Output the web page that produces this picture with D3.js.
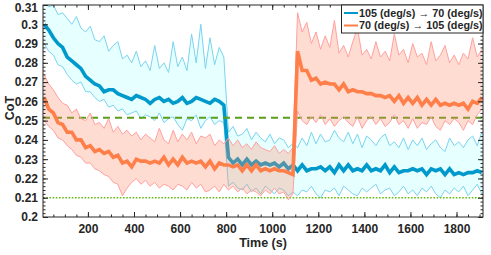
<!DOCTYPE html>
<html>
  <head>
    <meta charset="utf-8" />
    <style>
      body {
        margin: 0;
        background: white;
      }
      svg {
        display: block;
        font-family: 'Liberation Sans', Arial, sans-serif;
      }
      .axis text {
        font-size: 12px;
        font-weight: bold;
        fill: #262626;
      }
      .axis-label {
        font-size: 12.5px;
        font-weight: bold;
        fill: #262626;
        text-anchor: middle;
      }
      .legend text {
        font-size: 10.8px;
        font-weight: bold;
        fill: #262626;
      }
    </style>
  </head>
  <body>
    <script src="https://d3js.org/d3.v7.min.js"></script>
    <script>
      // sample grid (s)
      const sampleTimes = d3.range(10, 1911, 20);

      // 105 -> 70 deg/s
      const blueMean = [
        0.300, 0.297, 0.293, 0.290, 0.288, 0.283, 0.281, 0.279, 0.277, 0.273,
        0.271, 0.269, 0.268, 0.265, 0.266, 0.266, 0.264, 0.263, 0.262, 0.261,
        0.263, 0.262, 0.261, 0.259, 0.261, 0.262, 0.260, 0.261, 0.259, 0.260,
        0.262, 0.259, 0.260, 0.262, 0.261, 0.260, 0.259, 0.261, 0.260, 0.258,
        0.231, 0.228, 0.230, 0.227, 0.230, 0.227, 0.229, 0.227, 0.228, 0.227,
        0.228, 0.226, 0.228, 0.225, 0.227, 0.224, 0.227, 0.224, 0.225, 0.225,
        0.226, 0.224, 0.226, 0.223, 0.227, 0.224, 0.227, 0.224, 0.225, 0.224,
        0.227, 0.224, 0.225, 0.224, 0.227, 0.223, 0.226, 0.223, 0.224, 0.224,
        0.225, 0.224, 0.225, 0.222, 0.225, 0.224, 0.225, 0.222, 0.225, 0.222,
        0.223, 0.222, 0.223, 0.223, 0.224, 0.223,
      ];
      const blueHi = [
        0.312, 0.309, 0.310, 0.305, 0.306, 0.303, 0.300, 0.304, 0.298, 0.296,
        0.299, 0.292, 0.291, 0.294, 0.286, 0.289, 0.291, 0.282, 0.284, 0.280,
        0.286, 0.278, 0.281, 0.276, 0.289, 0.277, 0.280, 0.275, 0.291, 0.278,
        0.283, 0.276, 0.295, 0.280, 0.300, 0.277, 0.293, 0.279, 0.288, 0.283,
        0.244, 0.247, 0.242, 0.243, 0.246, 0.240, 0.244, 0.241, 0.239, 0.243,
        0.238, 0.241, 0.240, 0.236, 0.238, 0.236, 0.241, 0.237, 0.244, 0.238,
        0.243, 0.239, 0.240, 0.245, 0.241, 0.239, 0.244, 0.238, 0.243, 0.236,
        0.242, 0.240, 0.237, 0.241, 0.243, 0.237, 0.239, 0.236, 0.241, 0.235,
        0.240, 0.237, 0.241, 0.235, 0.238, 0.240, 0.236, 0.234, 0.241, 0.237,
        0.239, 0.236, 0.240, 0.242, 0.237, 0.244,
      ];
      const blueLo = [
        0.290, 0.286, 0.284, 0.279, 0.278, 0.274, 0.271, 0.269, 0.270, 0.265,
        0.265, 0.262, 0.260, 0.261, 0.257, 0.258, 0.255, 0.256, 0.253, 0.254,
        0.255, 0.251, 0.253, 0.252, 0.250, 0.254, 0.249, 0.251, 0.252, 0.248,
        0.245, 0.251, 0.250, 0.253, 0.246, 0.250, 0.252, 0.248, 0.250, 0.249,
        0.216, 0.218, 0.215, 0.214, 0.217, 0.213, 0.215, 0.212, 0.216, 0.214,
        0.212, 0.215, 0.214, 0.211, 0.213, 0.211, 0.214, 0.213, 0.216, 0.212,
        0.210, 0.214, 0.213, 0.215, 0.211, 0.216, 0.214, 0.212, 0.211, 0.215,
        0.213, 0.215, 0.217, 0.212, 0.214, 0.215, 0.211, 0.213, 0.216, 0.212,
        0.214, 0.211, 0.215, 0.213, 0.216, 0.212, 0.210, 0.214, 0.212, 0.215,
        0.213, 0.216, 0.211, 0.214, 0.217, 0.212,
      ];

      // 70 -> 105 deg/s
      const orMean = [
        0.262, 0.256, 0.254, 0.249, 0.248, 0.244, 0.244, 0.240, 0.240, 0.236,
        0.237, 0.234, 0.235, 0.233, 0.234, 0.231, 0.232, 0.228, 0.229, 0.226,
        0.230, 0.229, 0.229, 0.228, 0.229, 0.228, 0.231, 0.227, 0.230, 0.227,
        0.231, 0.228, 0.229, 0.228, 0.229, 0.226, 0.229, 0.225, 0.228, 0.227,
        0.227, 0.226, 0.227, 0.224, 0.227, 0.224, 0.227, 0.224, 0.225, 0.224,
        0.225, 0.224, 0.224, 0.223, 0.222, 0.286, 0.276, 0.276, 0.271, 0.272,
        0.269, 0.270, 0.269, 0.269, 0.266, 0.269, 0.265, 0.266, 0.265, 0.265,
        0.264, 0.264, 0.263, 0.263, 0.262, 0.263, 0.260, 0.263, 0.259, 0.262,
        0.259, 0.262, 0.258, 0.261, 0.258, 0.261, 0.258, 0.259, 0.258, 0.259,
        0.258, 0.259, 0.256, 0.260, 0.259, 0.262,
      ];
      const orHi = [
        0.274, 0.269, 0.266, 0.262, 0.259, 0.258, 0.254, 0.256, 0.251, 0.250,
        0.254, 0.248, 0.249, 0.246, 0.251, 0.244, 0.247, 0.243, 0.245, 0.242,
        0.244, 0.240, 0.243, 0.241, 0.239, 0.246, 0.240, 0.238, 0.245, 0.239,
        0.243, 0.240, 0.244, 0.238, 0.242, 0.241, 0.243, 0.237, 0.240, 0.238,
        0.241, 0.237, 0.240, 0.236, 0.238, 0.235, 0.239, 0.236, 0.235, 0.234,
        0.237, 0.233, 0.235, 0.233, 0.236, 0.306, 0.296, 0.301, 0.290, 0.296,
        0.287, 0.294, 0.288, 0.302, 0.285, 0.289, 0.283, 0.291, 0.298, 0.284,
        0.287, 0.282, 0.291, 0.283, 0.286, 0.281, 0.295, 0.284, 0.287, 0.280,
        0.290, 0.283, 0.285, 0.279, 0.291, 0.281, 0.284, 0.289, 0.280, 0.284,
        0.279, 0.285, 0.282, 0.293, 0.283, 0.287,
      ];
      const orLo = [
        0.250, 0.247, 0.245, 0.241, 0.240, 0.237, 0.235, 0.232, 0.231, 0.228,
        0.228, 0.225, 0.224, 0.222, 0.221, 0.218, 0.217, 0.211, 0.215, 0.218,
        0.220, 0.217, 0.219, 0.216, 0.218, 0.215, 0.217, 0.216, 0.214, 0.217,
        0.216, 0.214, 0.218, 0.215, 0.217, 0.213, 0.214, 0.216, 0.213, 0.217,
        0.214, 0.216, 0.213, 0.215, 0.212, 0.214, 0.213, 0.211, 0.214, 0.212,
        0.215, 0.212, 0.213, 0.209, 0.212, 0.255, 0.250, 0.248, 0.252, 0.249,
        0.253, 0.248, 0.251, 0.247, 0.250, 0.252, 0.249, 0.247, 0.252, 0.246,
        0.250, 0.252, 0.248, 0.251, 0.247, 0.249, 0.253, 0.248, 0.250, 0.246,
        0.251, 0.246, 0.249, 0.248, 0.252, 0.247, 0.245, 0.250, 0.248, 0.251,
        0.249, 0.245, 0.250, 0.248, 0.253, 0.256,
      ];

      const dashedRef = 0.2515;
      const dottedRef = 0.21;

      const xTicks = [200, 400, 600, 800, 1000, 1200, 1400, 1600, 1800];
      const yTicks = [0.2, 0.21, 0.22, 0.23, 0.24, 0.25, 0.26, 0.27, 0.28, 0.29, 0.3, 0.31];
      const legendNames = [
        ['105 (deg/s)', '70 (deg/s)'],
        ['70 (deg/s)', '105 (deg/s)'],
      ];

      const W = 491;
      const H = 255;
      const margin = { top: 5, right: 8, bottom: 38, left: 43 };

      const svg = d3.select('body').append('svg').attr('width', W).attr('height', H);

      const x = d3.scaleLinear().domain([5, 1915]).range([margin.left, W - margin.right]);
      const y = d3.scaleLinear().domain([0.2, 0.31]).range([H - margin.bottom, margin.top]);

      svg
        .append('clipPath')
        .attr('id', 'plot-clip')
        .append('rect')
        .attr('x', margin.left)
        .attr('y', margin.top)
        .attr('width', W - margin.left - margin.right)
        .attr('height', H - margin.top - margin.bottom);

      const series = [
        {
          mean: blueMean, hi: blueHi, lo: blueLo,
          line: '#0099cc', edge: '#7ad4ef', fill: '#e6ffff', fillOpacity: 1,
        },
        {
          mean: orMean, hi: orHi, lo: orLo,
          line: '#ff7f4a', edge: '#ffa0a0', fill: '#ff8a66', fillOpacity: 0.3,
        },
      ];

      const plot = svg.append('g').attr('clip-path', 'url(#plot-clip)');

      const area = d3
        .area()
        .x((d) => x(d.t))
        .y0((d) => y(d.lo))
        .y1((d) => y(d.hi));
      const line = d3
        .line()
        .x((d) => x(d.t))
        .y((d) => y(d.v));

      function drawSeries(s) {
        const rows = sampleTimes.map((t, i) => ({ t, lo: s.lo[i], hi: s.hi[i] }));
        const g = plot.append('g');
        g.append('path')
          .attr('d', area(rows))
          .attr('fill', s.fill)
          .attr('fill-opacity', s.fillOpacity);
        [s.hi, s.lo].forEach((vals) => {
          g.append('path')
            .attr('d', line(sampleTimes.map((t, i) => ({ t, v: vals[i] }))))
            .attr('fill', 'none')
            .attr('stroke', s.edge)
            .attr('stroke-width', 1);
        });
        g.append('path')
          .attr('d', line(sampleTimes.map((t, i) => ({ t, v: s.mean[i] }))))
          .attr('fill', 'none')
          .attr('stroke', s.line)
          .attr('stroke-width', 3.6);
      }

      drawSeries(series[0]);

      // reference levels
      plot
        .append('line')
        .attr('x1', x.range()[0])
        .attr('x2', x.range()[1])
        .attr('y1', y(dashedRef))
        .attr('y2', y(dashedRef))
        .attr('stroke', '#5a9e1a')
        .attr('stroke-width', 2)
        .attr('stroke-dasharray', '7,5');
      plot
        .append('line')
        .attr('x1', x.range()[0])
        .attr('x2', x.range()[1])
        .attr('y1', y(dottedRef))
        .attr('y2', y(dottedRef))
        .attr('stroke', '#66bb11')
        .attr('stroke-width', 1.6)
        .attr('stroke-dasharray', '1.6,1.6');

      drawSeries(series[1]);

      // axes, ticks pointing inward on all four sides
      const xMinor = d3.range(50, 1901, 50);
      const yMinor = d3.range(0, 56).map((i) => +(0.2 + i * 0.002).toFixed(3));
      const yFmt = (d) => String(+d.toFixed(2));
      const bottom = H - margin.bottom;
      const right = W - margin.right;

      const axes = svg.append('g').attr('class', 'axis').attr('color', '#262626');

      axes
        .append('g')
        .attr('transform', `translate(0,${bottom})`)
        .call(d3.axisBottom(x).tickValues(xMinor).tickSize(-2.5).tickFormat(''));
      axes
        .append('g')
        .attr('transform', `translate(0,${bottom})`)
        .call(d3.axisBottom(x).tickValues(xTicks).tickSize(-5).tickPadding(7).tickFormat(d3.format('d')));
      axes
        .append('g')
        .attr('transform', `translate(0,${margin.top})`)
        .call(d3.axisTop(x).tickValues(xMinor).tickSize(-2.5).tickFormat(''));
      axes
        .append('g')
        .attr('transform', `translate(0,${margin.top})`)
        .call(d3.axisTop(x).tickValues(xTicks).tickSize(-5).tickFormat(''));

      axes
        .append('g')
        .attr('transform', `translate(${margin.left},0)`)
        .call(d3.axisLeft(y).tickValues(yMinor).tickSize(-2.5).tickFormat(''));
      axes
        .append('g')
        .attr('transform', `translate(${margin.left},0)`)
        .call(d3.axisLeft(y).tickValues(yTicks).tickSize(-5).tickPadding(5).tickFormat(yFmt))
        .call((g) =>
          g
            .selectAll('text')
            .filter((d) => d === 0.31)
            .attr('transform', 'translate(0,3)')
        );
      axes
        .append('g')
        .attr('transform', `translate(${right},0)`)
        .call(d3.axisRight(y).tickValues(yMinor).tickSize(-2.5).tickFormat(''));
      axes
        .append('g')
        .attr('transform', `translate(${right},0)`)
        .call(d3.axisRight(y).tickValues(yTicks).tickSize(-5).tickFormat(''));

      axes.selectAll('.domain').remove();

      svg
        .append('rect')
        .attr('x', margin.left)
        .attr('y', margin.top)
        .attr('width', right - margin.left)
        .attr('height', bottom - margin.top)
        .attr('fill', 'none')
        .attr('stroke', '#262626')
        .attr('stroke-width', 1);

      svg
        .append('text')
        .attr('class', 'axis-label')
        .attr('x', (margin.left + right) / 2)
        .attr('y', 247)
        .text('Time (s)');

      svg
        .append('text')
        .attr('class', 'axis-label')
        .attr('transform', 'translate(14,108) rotate(-90)')
        .text('CoT');

      // legend
      const legend = svg.append('g').attr('class', 'legend');
      legend
        .append('rect')
        .attr('x', 341.5)
        .attr('y', margin.top)
        .attr('width', right - 341.5)
        .attr('height', 28)
        .attr('fill', 'white')
        .attr('stroke', '#262626')
        .attr('stroke-width', 1);

      const items = legend
        .selectAll('.item')
        .data(legendNames)
        .join('g')
        .attr('class', 'item')
        .attr('transform', (d, i) => `translate(344,${13 + i * 12.5})`);

      items
        .append('line')
        .attr('x1', 0)
        .attr('x2', 14)
        .attr('stroke', (d, i) => series[i].line)
        .attr('stroke-width', 2);

      const label = items.append('text').attr('x', 15).attr('dy', '0.36em');
      label.append('tspan').text((d) => d[0] + ' ');
      label
        .append('tspan')
        .attr('font-weight', 'normal')
        .text('\u2192');
      label.append('tspan').text((d) => ' ' + d[1]);
    </script>
  </body>
</html>
